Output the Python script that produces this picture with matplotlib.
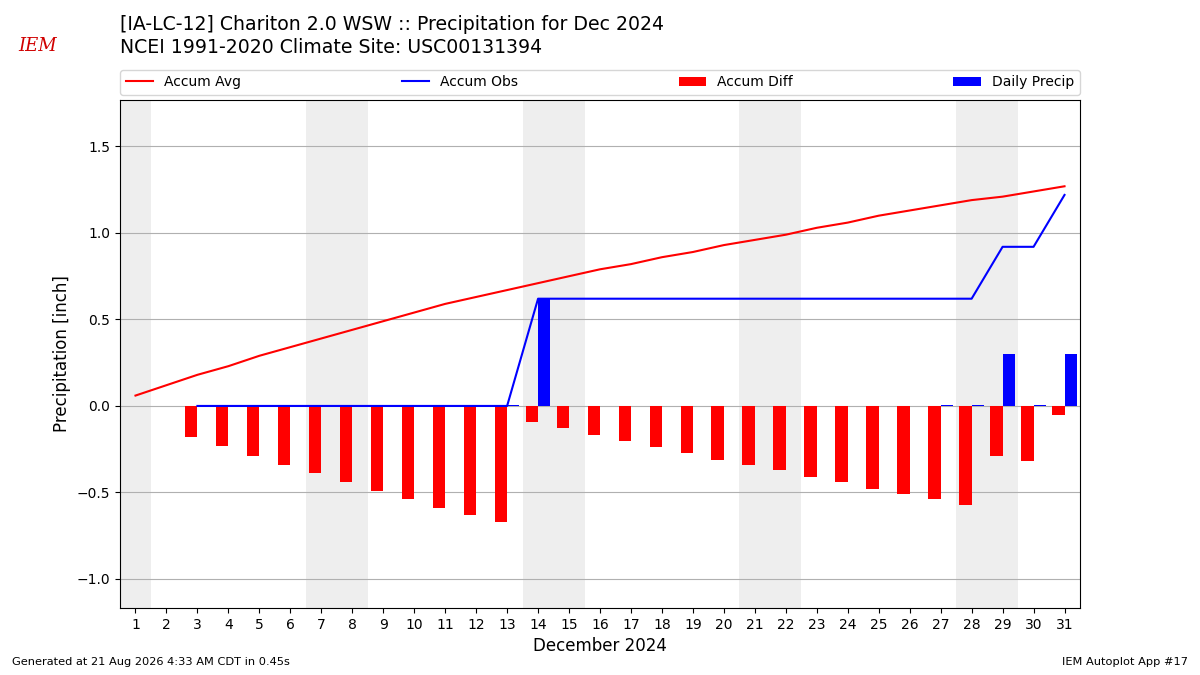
import numpy as np
import matplotlib
matplotlib.use("Agg")
import matplotlib.pyplot as plt

# daily data for Dec 2024
days = list(range(1, 32))
accum_avg = [0.06, 0.12, 0.18, 0.23, 0.29, 0.34, 0.39, 0.44, 0.49, 0.54,
             0.59, 0.63, 0.67, 0.71, 0.75, 0.79, 0.82, 0.86, 0.89, 0.93,
             0.96, 0.99, 1.03, 1.06, 1.10, 1.13, 1.16, 1.19, 1.21, 1.24, 1.27]
# observations start on day 3
obs_days = list(range(3, 32))
daily_precip = [0.0, 0.0, 0.0, 0.0, 0.0, 0.0, 0.0, 0.0, 0.0, 0.0,
                0.005, 0.62, 0.0, 0.0, 0.0, 0.0, 0.0, 0.0, 0.0, 0.0,
                0.0, 0.0, 0.0, 0.0, 0.005, 0.005, 0.30, 0.005, 0.30]
accum_obs = [0.0, 0.0, 0.0, 0.0, 0.0, 0.0, 0.0, 0.0, 0.0, 0.0,
             0.0, 0.62, 0.62, 0.62, 0.62, 0.62, 0.62, 0.62, 0.62, 0.62,
             0.62, 0.62, 0.62, 0.62, 0.62, 0.62, 0.92, 0.92, 1.22]
accum_diff = [-0.18, -0.23, -0.29, -0.34, -0.39, -0.44, -0.49, -0.54, -0.59, -0.63,
              -0.67, -0.09, -0.13, -0.17, -0.20, -0.24, -0.27, -0.31, -0.34, -0.37,
              -0.41, -0.44, -0.48, -0.51, -0.54, -0.57, -0.29, -0.32, -0.05]
weekend_days = [1, 7, 8, 14, 15, 21, 22, 28, 29]

fig = plt.figure(figsize=(12, 6.75), dpi=100)
ax = fig.add_axes([0.1, 0.0993, 0.8, 0.7526])

for d in weekend_days:
    ax.axvspan(d - 0.5, d + 0.5, color="#eeeeee", lw=0, zorder=0)

ax.plot(days, accum_avg, color="r", lw=1.5, label="Accum Avg", zorder=3)
ax.plot(obs_days, accum_obs, color="b", lw=1.5, label="Accum Obs", zorder=3)
ax.bar(obs_days, accum_diff, width=-0.4, align="edge", color="r",
       label="Accum Diff", zorder=2)
ax.bar(obs_days, daily_precip, width=0.4, align="edge", color="b",
       label="Daily Precip", zorder=2)

ax.set_xlim(0.5, 31.5)
ax.set_ylim(-1.168, 1.769)
ax.set_xticks(days)
ax.set_xticklabels([str(d) for d in days])
ax.set_yticks([-1.0, -0.5, 0.0, 0.5, 1.0, 1.5])
ax.grid(axis="y", color="#b0b0b0", lw=0.8, zorder=1)
ax.set_axisbelow(True)
ax.set_ylabel("Precipitation [inch]", fontsize=12)
ax.set_xlabel("December 2024", fontsize=12)

ax.legend(loc="lower left", bbox_to_anchor=(0, 1.01, 1, 0.05), mode="expand",
          ncol=4, fontsize=10, borderaxespad=0)

fig.text(0.1, 0.964, "[IA-LC-12] Chariton 2.0 WSW :: Precipitation for Dec 2024",
         fontsize=13.6, va="center")
fig.text(0.1, 0.929, "NCEI 1991-2020 Climate Site: USC00131394",
         fontsize=13.6, va="center")
fig.text(0.031, 0.932, "IEM", color="#d00000", fontsize=13, family="serif",
         style="italic", va="center", ha="center")
fig.text(0.01, 0.015, "Generated at 21 Aug 2026 4:33 AM CDT in 0.45s", fontsize=8.2)
fig.text(0.99, 0.015, "IEM Autoplot App #17", fontsize=8.2, ha="right")

fig.savefig("out.png")
